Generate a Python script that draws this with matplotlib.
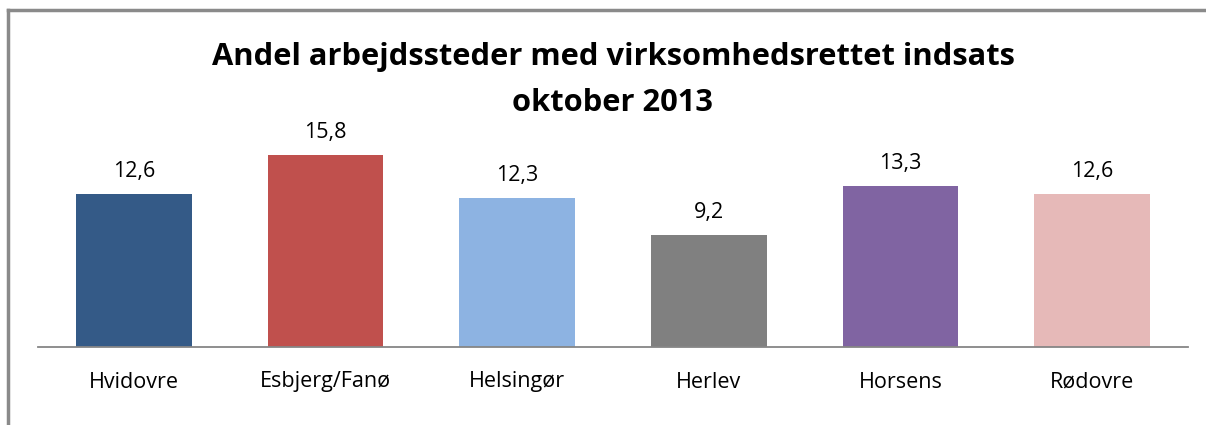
import matplotlib.pyplot as plt
import matplotlib.lines as mlines

# data
kommuner = ['Hvidovre', 'Esbjerg/Fanø', 'Helsingør', 'Herlev', 'Horsens', 'Rødovre']
andel = [12.6, 15.8, 12.3, 9.2, 13.3, 12.6]
farver = ['#345A87', '#C0504D', '#8DB3E2', '#808080', '#8064A2', '#E6B9B8']
labels = ['12,6', '15,8', '12,3', '9,2', '13,3', '12,6']

W, H = 1206, 425
fig = plt.figure(figsize=(W / 100, H / 100), dpi=100)
plt.rcParams['font.family'] = ['Open Sans', 'DejaVu Sans']

# axes placed in pixel coords
x0, x1 = 38, 1188
y_axis, y_top = 346.5, 100
ax = fig.add_axes([x0 / W, 1 - y_axis / H, (x1 - x0) / W, (y_axis - y_top) / H])
ax.bar(range(len(kommuner)), andel, width=0.605, color=farver)
ax.set_xlim(-0.5, len(kommuner) - 0.5)
ax.set_ylim(0, (y_axis - y_top) / 12.1)

for i, v in enumerate(andel):
    ax.annotate(labels[i], (i, v), xytext=(0, 12.2), textcoords='offset points',
                ha='center', va='baseline', fontsize=15.5)

ax.set_xticks(range(len(kommuner)))
ax.set_xticklabels(kommuner, fontsize=15.5)
ax.tick_params(axis='x', length=0, pad=18)
ax.set_yticks([])
for s in ['top', 'right', 'left']:
    ax.spines[s].set_visible(False)
ax.spines['bottom'].set_color('#868686')
ax.spines['bottom'].set_linewidth(1.3)

fig.text(613 / W, 1 - 65 / H, 'Andel arbejdssteder med virksomhedsrettet indsats',
         ha='center', va='baseline', fontsize=22.2, fontweight='bold')
fig.text(613 / W, 1 - 111 / H, 'oktober 2013', ha='center', va='baseline',
         fontsize=22.2, fontweight='bold')

# outer chart frame (top and left only visible)
fig.add_artist(mlines.Line2D([8 / W, 8 / W], [0, 1 - 10 / H], color='#8a8a8a', lw=2.5))
fig.add_artist(mlines.Line2D([8 / W, 1205 / W], [1 - 10 / H, 1 - 10 / H], color='#8a8a8a', lw=2.5))

fig.savefig('out.png', dpi=100)
